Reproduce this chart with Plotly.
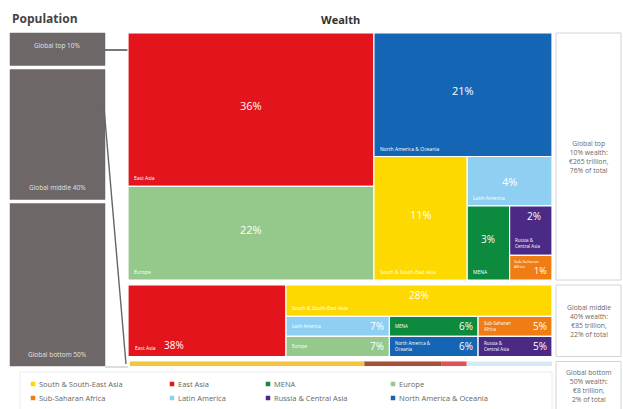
import plotly.graph_objects as go

# ---------------- data ----------------
legend_regions = ["South & South-East Asia", "East Asia", "MENA", "Europe",
                  "Sub-Saharan Africa", "Latin America", "Russia & Central Asia",
                  "North America & Oceania"]

pop_labels = ["Global top 10%", "Global middle 40%", "Global bottom 50%"]
pop_shares = [10, 40, 50]
wealth_shares = [76, 22, 2]
wealth_text = ["Global top<br>10% wealth:<br>€265 trillion,<br>76% of total",
               "Global middle<br>40% wealth:<br>€85 trillion,<br>22% of total",
               "Global bottom<br>50% wealth:<br>€8 trillion,<br>2% of total"]

top_regions = ["East Asia", "Europe", "North America & Oceania", "South & South-East Asia",
               "Latin America", "MENA", "Russia & Central Asia", "Sub-Saharan Africa"]
top_values = [36, 22, 21, 11, 4, 3, 2, 1]

mid_regions = ["East Asia", "South & South-East Asia", "Latin America", "Europe",
               "MENA", "North America & Oceania", "Sub-Saharan Africa", "Russia & Central Asia"]
mid_values = [38, 28, 7, 7, 6, 6, 5, 5]

bot_regions = ["South & South-East Asia", "Sub-Saharan Africa", "East Asia", "Latin America"]
bot_values = [55, 18, 6, 20]

# ---------------- styles ----------------
colors = {
    "East Asia": "#e3141c",
    "Europe": "#95c98b",
    "North America & Oceania": "#1465b4",
    "South & South-East Asia": "#fdd900",
    "Latin America": "#8fd0f2",
    "MENA": "#0c8a3e",
    "Russia & Central Asia": "#4a2a85",
    "Sub-Saharan Africa": "#f07d14",
}
bot_colors = {
    "South & South-East Asia": "#f3c43c",
    "Sub-Saharan Africa": "#a5503a",
    "East Asia": "#e0525a",
    "Latin America": "#d6eaf6",
}
FONT = "Open Sans"
GREY_BOX = "#6e6768"
PX = 3.25          # pixels per percent (vertical)
Y0 = 33
WX0, WX1 = 128, 552
PX0, PX1 = 10, 105
RX0, RX1 = 556, 621

# nested slice-and-dice structures (indices into values)
top_tree = [[0, 1], [2, [3, [4, [5, [6, 7]]]]]]
mid_tree = [0, [1, [[2, 3], [4, 5], [6, 7]]]]
bot_tree = [0, 1, 2, 3]


def tot(node, vals):
    if isinstance(node, int):
        return vals[node]
    return sum(tot(c, vals) for c in node)


def slice_dice(node, vals, x0, y0, x1, y1, depth, out):
    if isinstance(node, int):
        out[node] = (x0, y0, x1, y1)
        return
    t = tot(node, vals)
    pos = x0 if depth % 2 == 0 else y0
    for c in node:
        f = tot(c, vals) / t
        if depth % 2 == 0:
            w = (x1 - x0) * f
            slice_dice(c, vals, pos, y0, pos + w, y1, depth + 1, out)
        else:
            w = (y1 - y0) * f
            slice_dice(c, vals, x0, pos, x1, pos + w, depth + 1, out)
        pos += w


fig = go.Figure()
ann = []


def rect(x0, y0, x1, y1, fill, line="white", lw=1.2, opacity=1.0):
    fig.add_trace(go.Scatter(x=[x0, x1, x1, x0, x0], y=[y0, y0, y1, y1, y0],
                             mode="lines", fill="toself", fillcolor=fill,
                             line=dict(color=line, width=lw), opacity=opacity,
                             hoverinfo="skip", showlegend=False))


def text(x, y, s, size, color="white", xa="center", ya="middle", bold=False, align="center"):
    ann.append(dict(x=x, y=y, text=("<b>%s</b>" % s) if bold else s, showarrow=False,
                    xanchor=xa, yanchor=ya, align=align,
                    font=dict(family=FONT, size=size, color=color)))


# ---------------- wealth block extents ----------------
gap = 5
wy = []
y = Y0
for s in wealth_shares:
    h = s * PX
    if s == wealth_shares[-1]:
        h = 4.5
    wy.append((y, y + h))
    y += h + gap

# ---------------- population boxes ----------------
py = []
y = Y0
for s in pop_shares:
    h = s * PX
    py.append((y, y + h))
    y += h + 4
for i, (lab, (a, b)) in enumerate(zip(pop_labels, py)):
    rect(PX0, a, PX1, b, GREY_BOX, line=GREY_BOX, lw=0.5)
    ty = (a + b) / 2 - 4 if i == 0 else b - 12
    text((PX0 + PX1) / 2, ty, lab, 6.5, color="rgba(255,255,255,0.85)")

# connecting lines
fig.add_trace(go.Scatter(x=[PX1, WX0], y=[50, 50], mode="lines",
                         line=dict(color="#555", width=1.6), hoverinfo="skip", showlegend=False))
fig.add_trace(go.Scatter(x=[PX1 - 1, WX0 - 2], y=[108, wy[2][1] - 2], mode="lines",
                         line=dict(color="#666", width=1.4), hoverinfo="skip", showlegend=False))
fig.add_trace(go.Scatter(x=[PX1, WX0], y=[367, 367], mode="lines",
                         line=dict(color="#bbb", width=1), hoverinfo="skip", showlegend=False))

# ---------------- top block ----------------
out = {}
slice_dice(top_tree, top_values, WX0, wy[0][0], WX1, wy[0][1], 0, out)
for i, (r, v) in enumerate(zip(top_regions, top_values)):
    x0, y0, x1, y1 = out[i]
    rect(x0, y0, x1, y1, colors[r])
for i, (r, v) in enumerate(zip(top_regions, top_values)):
    x0, y0, x1, y1 = out[i]
    w = x1 - x0
    h = y1 - y0
    size = 11 if w > 80 else (10 if w > 40 else 9)
    name = r
    if w < 50 and " " in r:
        name = r.replace(" & ", " &<br>").replace("-Saharan ", "-Saharan<br>")
    if r == "Sub-Saharan Africa":
        text(x0 + 2, y0 + 1.5, name, 4.2, xa="left", ya="top", align="left")
        text(x1 - 3, y1 - 1, "%d%%" % v, 9, xa="right", ya="bottom")
    elif r == "Russia & Central Asia":
        text((x0 + x1) / 2 + 3, y0 + 10, "%d%%" % v, size)
        text(x0 + 3, y1 - 12, name, 4.5, xa="left", ya="middle", align="left")
    else:
        cy = (y0 + y1) / 2 - (4 if h > 60 else 0)
        text((x0 + x1) / 2, cy, "%d%%" % v, size)
        text(x0 + 4, y1 - 3, name, 5, xa="left", ya="bottom", align="left")

# ---------------- middle block ----------------
out = {}
slice_dice(mid_tree, mid_values, WX0, wy[1][0], WX1, wy[1][1], 0, out)
for i, (r, v) in enumerate(zip(mid_regions, mid_values)):
    x0, y0, x1, y1 = out[i]
    rect(x0, y0, x1, y1, colors[r])
for i, (r, v) in enumerate(zip(mid_regions, mid_values)):
    x0, y0, x1, y1 = out[i]
    if r == "East Asia":
        text(x0 + 5, y1 - 4, r, 5, xa="left", ya="bottom")
        text(x0 + 34, y1 - 3, "%d%%" % v, 10, xa="left", ya="bottom")
    elif r == "South & South-East Asia":
        text((x0 + x1) / 2, y0 + 10, "%d%%" % v, 10)
        text(x0 + 4, y1 - 8, r, 5, xa="left", ya="middle")
    else:
        name = r
        if r in ("Sub-Saharan Africa", "North America & Oceania", "Russia & Central Asia"):
            name = r.replace(" & ", " &<br>").replace("-Saharan ", "-Saharan<br>")
            if r == "Russia & Central Asia":
                name = "Russia &<br>Central Asia"
        text(x0 + 4, (y0 + y1) / 2, name, 4.5, xa="left", ya="middle", align="left")
        text(x1 - 3, (y0 + y1) / 2, "%d%%" % v, 10, xa="right", ya="middle")

# ---------------- bottom bar ----------------
out = {}
slice_dice(bot_tree, bot_values, WX0 + 2, wy[2][0], WX1, wy[2][1], 0, out)
for i, r in enumerate(bot_regions):
    x0, y0, x1, y1 = out[i]
    rect(x0, y0, x1, y1, bot_colors[r], line=bot_colors[r], lw=0.1)

# ---------------- right summary boxes ----------------
rboxes = [wy[0], wy[1], (wy[2][0], 415)]
for i, ((a, b), s) in enumerate(zip(rboxes, wealth_text)):
    rect(RX0, a, RX1, b, "white", line="#d4d4d4", lw=1)
    cy = (a + b) / 2 if i < 2 else a + 24
    text((RX0 + RX1) / 2, cy, s, 6.8, color="#6a6a6a")

# ---------------- legend ----------------
leg_x = [33, 172, 268, 393]
leg_y = [384, 398]
rect(20, 372, 552, 412, "white", line="#ececec", lw=1)
for k, r in enumerate(legend_regions):
    lx = leg_x[k % 4]
    ly = leg_y[k // 4]
    fig.add_trace(go.Scatter(x=[lx], y=[ly], mode="markers",
                             marker=dict(symbol="square", size=4.5, color=colors[r]),
                             hoverinfo="skip", showlegend=False))
    text(lx + 4, ly, r, 7.5, color="#666", xa="left", ya="middle")

# ---------------- titles ----------------
text(10, 18, "Population", 12, color="#444", xa="left", bold=True)
text(340, 19, "Wealth", 11, color="#333", bold=True)

fig.update_layout(
    width=623, height=409,
    margin=dict(l=0, r=0, t=0, b=0),
    paper_bgcolor="white", plot_bgcolor="white",
    xaxis=dict(range=[0, 623], visible=False, fixedrange=True),
    yaxis=dict(range=[409, 0], visible=False, fixedrange=True),
    annotations=ann, showlegend=False,
)
fig.write_html("out.html", config={"displayModeBar": False},
               post_script="document.body.style.margin='0';document.body.style.overflow='hidden';")
